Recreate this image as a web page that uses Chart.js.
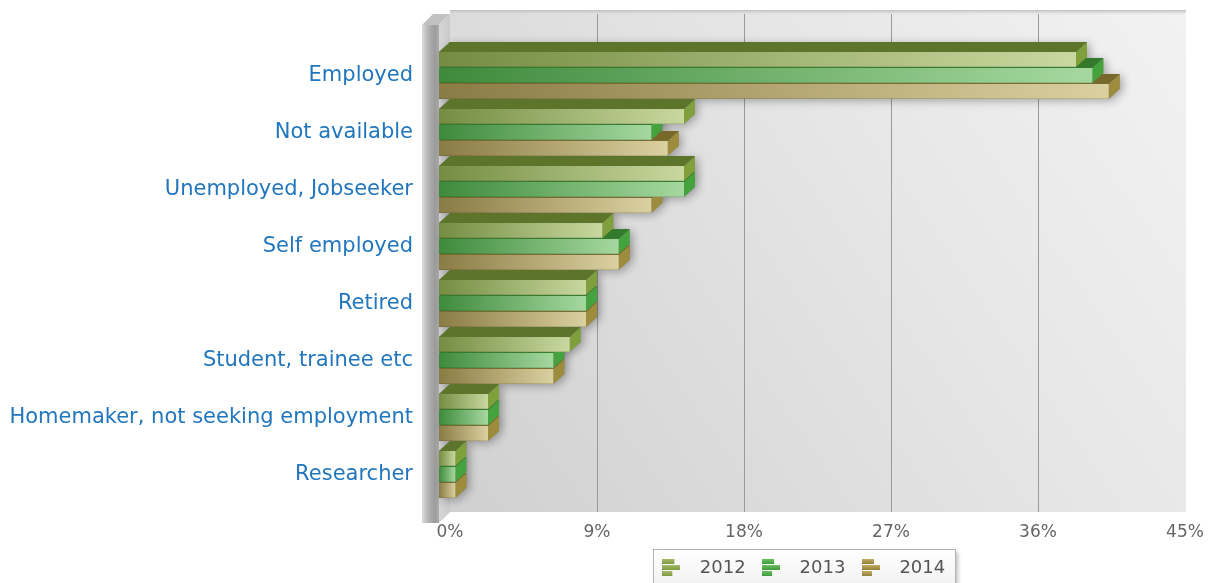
<!DOCTYPE html>
<html>
<head>
<meta charset="utf-8">
<script src="https://cdn.jsdelivr.net/npm/chart.js@4.4.1/dist/chart.umd.min.js"></script>
<style>
  html, body { margin: 0; padding: 0; background: #fff; }
</style>
</head>
<body>
<canvas id="occupationChart" width="1223" height="583"></canvas>
<script>
const categories = [
  'Employed',
  'Not available',
  'Unemployed, Jobseeker',
  'Self employed',
  'Retired',
  'Student, trainee etc',
  'Homemaker, not seeking employment',
  'Researcher',
];
const years = ['2012', '2013', '2014'];
const share2012 = [39, 15, 15, 10, 9, 8, 3, 1];
const share2013 = [40, 13, 15, 11, 9, 7, 3, 1];
const share2014 = [41, 14, 13, 11, 9, 7, 3, 1];
const xTicks = [0, 9, 18, 27, 36, 45];

// depth of the fake 3d
const DX = 11, DY = 10;

const faces = [
  { front: ['#748d42', '#c8d89f'], top: '#5c752b', side: '#80a03e', icon: ['#a6bb6c', '#7d9a3f'] },
  { front: ['#3e8a3c', '#a5d89f'], top: '#347a2d', side: '#45a33d', icon: ['#6cc060', '#3f9a3a'] },
  { front: ['#8b7b44', '#dad0a0'], top: '#77692c', side: '#9c8c3b', icon: ['#c2ac62', '#93803a'] },
];

const poly = (ctx, pts) => {
  ctx.beginPath();
  ctx.moveTo(pts[0][0], pts[0][1]);
  pts.slice(1).forEach(p => ctx.lineTo(p[0], p[1]));
  ctx.closePath();
};

const makeIcon = (colors) => {
  const c = document.createElement('canvas');
  c.width = 18; c.height = 18;
  const g = c.getContext('2d');
  [[0, 12], [6, 18], [12, 10]].forEach(([y, w]) => {
    const grd = g.createLinearGradient(0, y, 0, y + 5);
    grd.addColorStop(0, colors[0]);
    grd.addColorStop(1, colors[1]);
    g.fillStyle = grd;
    g.fillRect(0, y, w, 5);
  });
  return c;
};
const icons = faces.map(f => makeIcon(f.icon));

const backdrop = {
  id: 'backdrop',
  afterLayout(chart) {
    const lg = chart.legend;
    lg.left -= 8; lg.right -= 8;
    lg.top += 4; lg.bottom += 4;
  },
  beforeDraw(chart) {
    const { ctx, chartArea: a, scales: { x } } = chart;
    ctx.save();
    ctx.fillStyle = '#fff';
    ctx.fillRect(0, 0, chart.width, chart.height);

    const wl = a.left + DX, wr = a.right + DX + 1, wt = a.top - 37, wb = a.bottom + 9;
    const wall = ctx.createLinearGradient(wl, wb, wr, wt);
    wall.addColorStop(0, '#d0d0d0');
    wall.addColorStop(0.6, '#e6e6e6');
    wall.addColorStop(1, '#f2f2f2');
    ctx.fillStyle = wall;
    ctx.fillRect(wl, wt, wr - wl, wb - wt);
    const rim = ctx.createLinearGradient(0, wt, 0, wt + 5);
    rim.addColorStop(0, '#bdbdbd');
    rim.addColorStop(1, 'rgba(220,220,220,0)');
    ctx.fillStyle = rim;
    ctx.fillRect(wl, wt, wr - wl, 5);

    ctx.strokeStyle = '#9a9a9a';
    ctx.lineWidth = 1;
    x.ticks.forEach(t => {
      if (t.value <= x.min || t.value >= x.max) return;
      const px = Math.round(x.getPixelForValue(t.value) + DX) + 0.5;
      ctx.beginPath();
      ctx.moveTo(px, wt + 4);
      ctx.lineTo(px, wb);
      ctx.stroke();
    });

    // left slab
    const sx0 = a.left - 17, sx1 = a.left, sy0 = a.top - 22, sy1 = wb + DY + 1, st = sy0 - DY - 1;
    const side = ctx.createLinearGradient(sx1, 0, sx1 + DX, 0);
    side.addColorStop(0, '#d6d6d6');
    side.addColorStop(1, '#cacaca');
    ctx.fillStyle = side;
    poly(ctx, [[sx1, sy0], [sx1 + DX, st], [sx1 + DX, wb], [sx1, sy1]]);
    ctx.fill();
    ctx.fillStyle = '#c2c2c2';
    poly(ctx, [[sx0, sy0], [sx0 + DX, st], [sx1 + DX, st], [sx1, sy0]]);
    ctx.fill();
    const front = ctx.createLinearGradient(sx0, 0, sx1, 0);
    front.addColorStop(0, '#dcdcdc');
    front.addColorStop(0.35, '#b6b6b6');
    front.addColorStop(0.75, '#9c9c9c');
    front.addColorStop(1, '#adadad');
    ctx.fillStyle = front;
    ctx.fillRect(sx0, sy0, sx1 - sx0, sy1 - sy0);

    // legend frame
    const lg = chart.legend;
    const hb = lg.legendHitBoxes;
    if (hb && hb.length) {
      const last = hb[hb.length - 1];
      const l = Math.round(hb[0].left) + 1.5, r = Math.round(last.left + last.width) + 10.5;
      const t = Math.round(lg.top) - 3.5, b = chart.height + 5;
      ctx.shadowColor = 'rgba(0,0,0,0.25)';
      ctx.shadowBlur = 4;
      ctx.shadowOffsetX = 2;
      ctx.shadowOffsetY = 2;
      const bg = ctx.createLinearGradient(0, t, 0, b);
      bg.addColorStop(0, '#ffffff');
      bg.addColorStop(1, '#f1f1f1');
      ctx.fillStyle = bg;
      ctx.fillRect(l, t, r - l, b - t);
      ctx.shadowColor = 'transparent';
      ctx.strokeStyle = '#b4b4b4';
      ctx.strokeRect(l, t, r - l, b - t);
    }
    ctx.restore();
  }
};

const blocks = {
  id: 'blocks',
  afterDatasetsDraw(chart) {
    const ctx = chart.ctx;
    const bars = [];
    for (let i = categories.length - 1; i >= 0; i--) {
      for (let d = years.length - 1; d >= 0; d--) {
        const el = chart.getDatasetMeta(d).data[i];
        const { x, y, base, height } = el.getProps(['x', 'y', 'base', 'height'], true);
        bars.push({ d, l: base, r: x, t: y - height / 2, b: y + height / 2 });
      }
    }
    const outline = s => [[s.l, s.t], [s.l + DX, s.t - DY], [s.r + DX, s.t - DY], [s.r + DX, s.b - DY], [s.r, s.b], [s.l, s.b]];

    ctx.save();
    ctx.shadowColor = 'rgba(0,0,0,0.3)';
    ctx.shadowBlur = 8;
    ctx.shadowOffsetX = 3;
    ctx.shadowOffsetY = 2;
    ctx.fillStyle = '#8a8a8a';
    bars.forEach(s => { poly(ctx, outline(s)); ctx.fill(); });
    ctx.shadowColor = 'transparent';

    bars.forEach(s => {
      const f = faces[s.d];
      ctx.fillStyle = f.side;
      poly(ctx, [[s.r, s.t], [s.r + DX, s.t - DY], [s.r + DX, s.b - DY], [s.r, s.b]]);
      ctx.fill();
      ctx.fillStyle = f.top;
      poly(ctx, [[s.l, s.t], [s.l + DX, s.t - DY], [s.r + DX, s.t - DY], [s.r, s.t]]);
      ctx.fill();
      const g = ctx.createLinearGradient(s.l, 0, s.r, 0);
      g.addColorStop(0, f.front[0]);
      g.addColorStop(1, f.front[1]);
      ctx.fillStyle = g;
      ctx.fillRect(s.l, s.t, s.r - s.l, s.b - s.t);
      ctx.fillStyle = 'rgba(0,0,0,0.12)';
      ctx.fillRect(s.l, s.b - 1, s.r - s.l, 1);
    });
    ctx.restore();
  }
};

new Chart(document.getElementById('occupationChart'), {
  type: 'bar',
  data: {
    labels: categories,
    datasets: [share2012, share2013, share2014].map((values, i) => ({
      label: years[i],
      data: values,
      backgroundColor: 'rgba(0,0,0,0)',
      borderWidth: 0,
      categoryPercentage: 0.84,
      barPercentage: 0.94,
    })),
  },
  options: {
    indexAxis: 'y',
    responsive: false,
    animation: false,
    layout: { padding: { top: 47, right: 49, bottom: 0, left: 0 } },
    scales: {
      x: {
        min: 0,
        max: 45,
        afterBuildTicks: s => { s.ticks = xTicks.map(v => ({ value: v })); },
        afterFit: s => { s.height = 46; },
        grid: { display: false, drawTicks: false },
        border: { display: false },
        ticks: {
          labelOffset: DX,
          padding: 19,
          color: '#666',
          font: { family: 'DejaVu Sans', size: 17 },
          callback: v => v + '%',
        },
      },
      y: {
        afterFit: s => { s.width = 439; },
        grid: { display: false, drawTicks: false },
        border: { display: false },
        ticks: {
          padding: 26,
          color: '#2176bd',
          font: { family: 'DejaVu Sans', size: 21 },
        },
      },
    },
    plugins: {
      tooltip: { enabled: false },
      legend: {
        position: 'bottom',
        fullSize: false,
        labels: {
          usePointStyle: true,
          pointStyleWidth: 39,
          padding: 6,
          color: '#555',
          font: { family: 'DejaVu Sans', size: 18 },
          generateLabels: chart => chart.data.datasets.map((ds, i) => ({
            text: ds.label,
            pointStyle: icons[i],
            fillStyle: 'transparent',
            strokeStyle: 'transparent',
            lineWidth: 0,
            hidden: false,
            datasetIndex: i,
            fontColor: '#555',
          })),
        },
      },
    },
  },
  plugins: [backdrop, blocks],
});
</script>
</body>
</html>
